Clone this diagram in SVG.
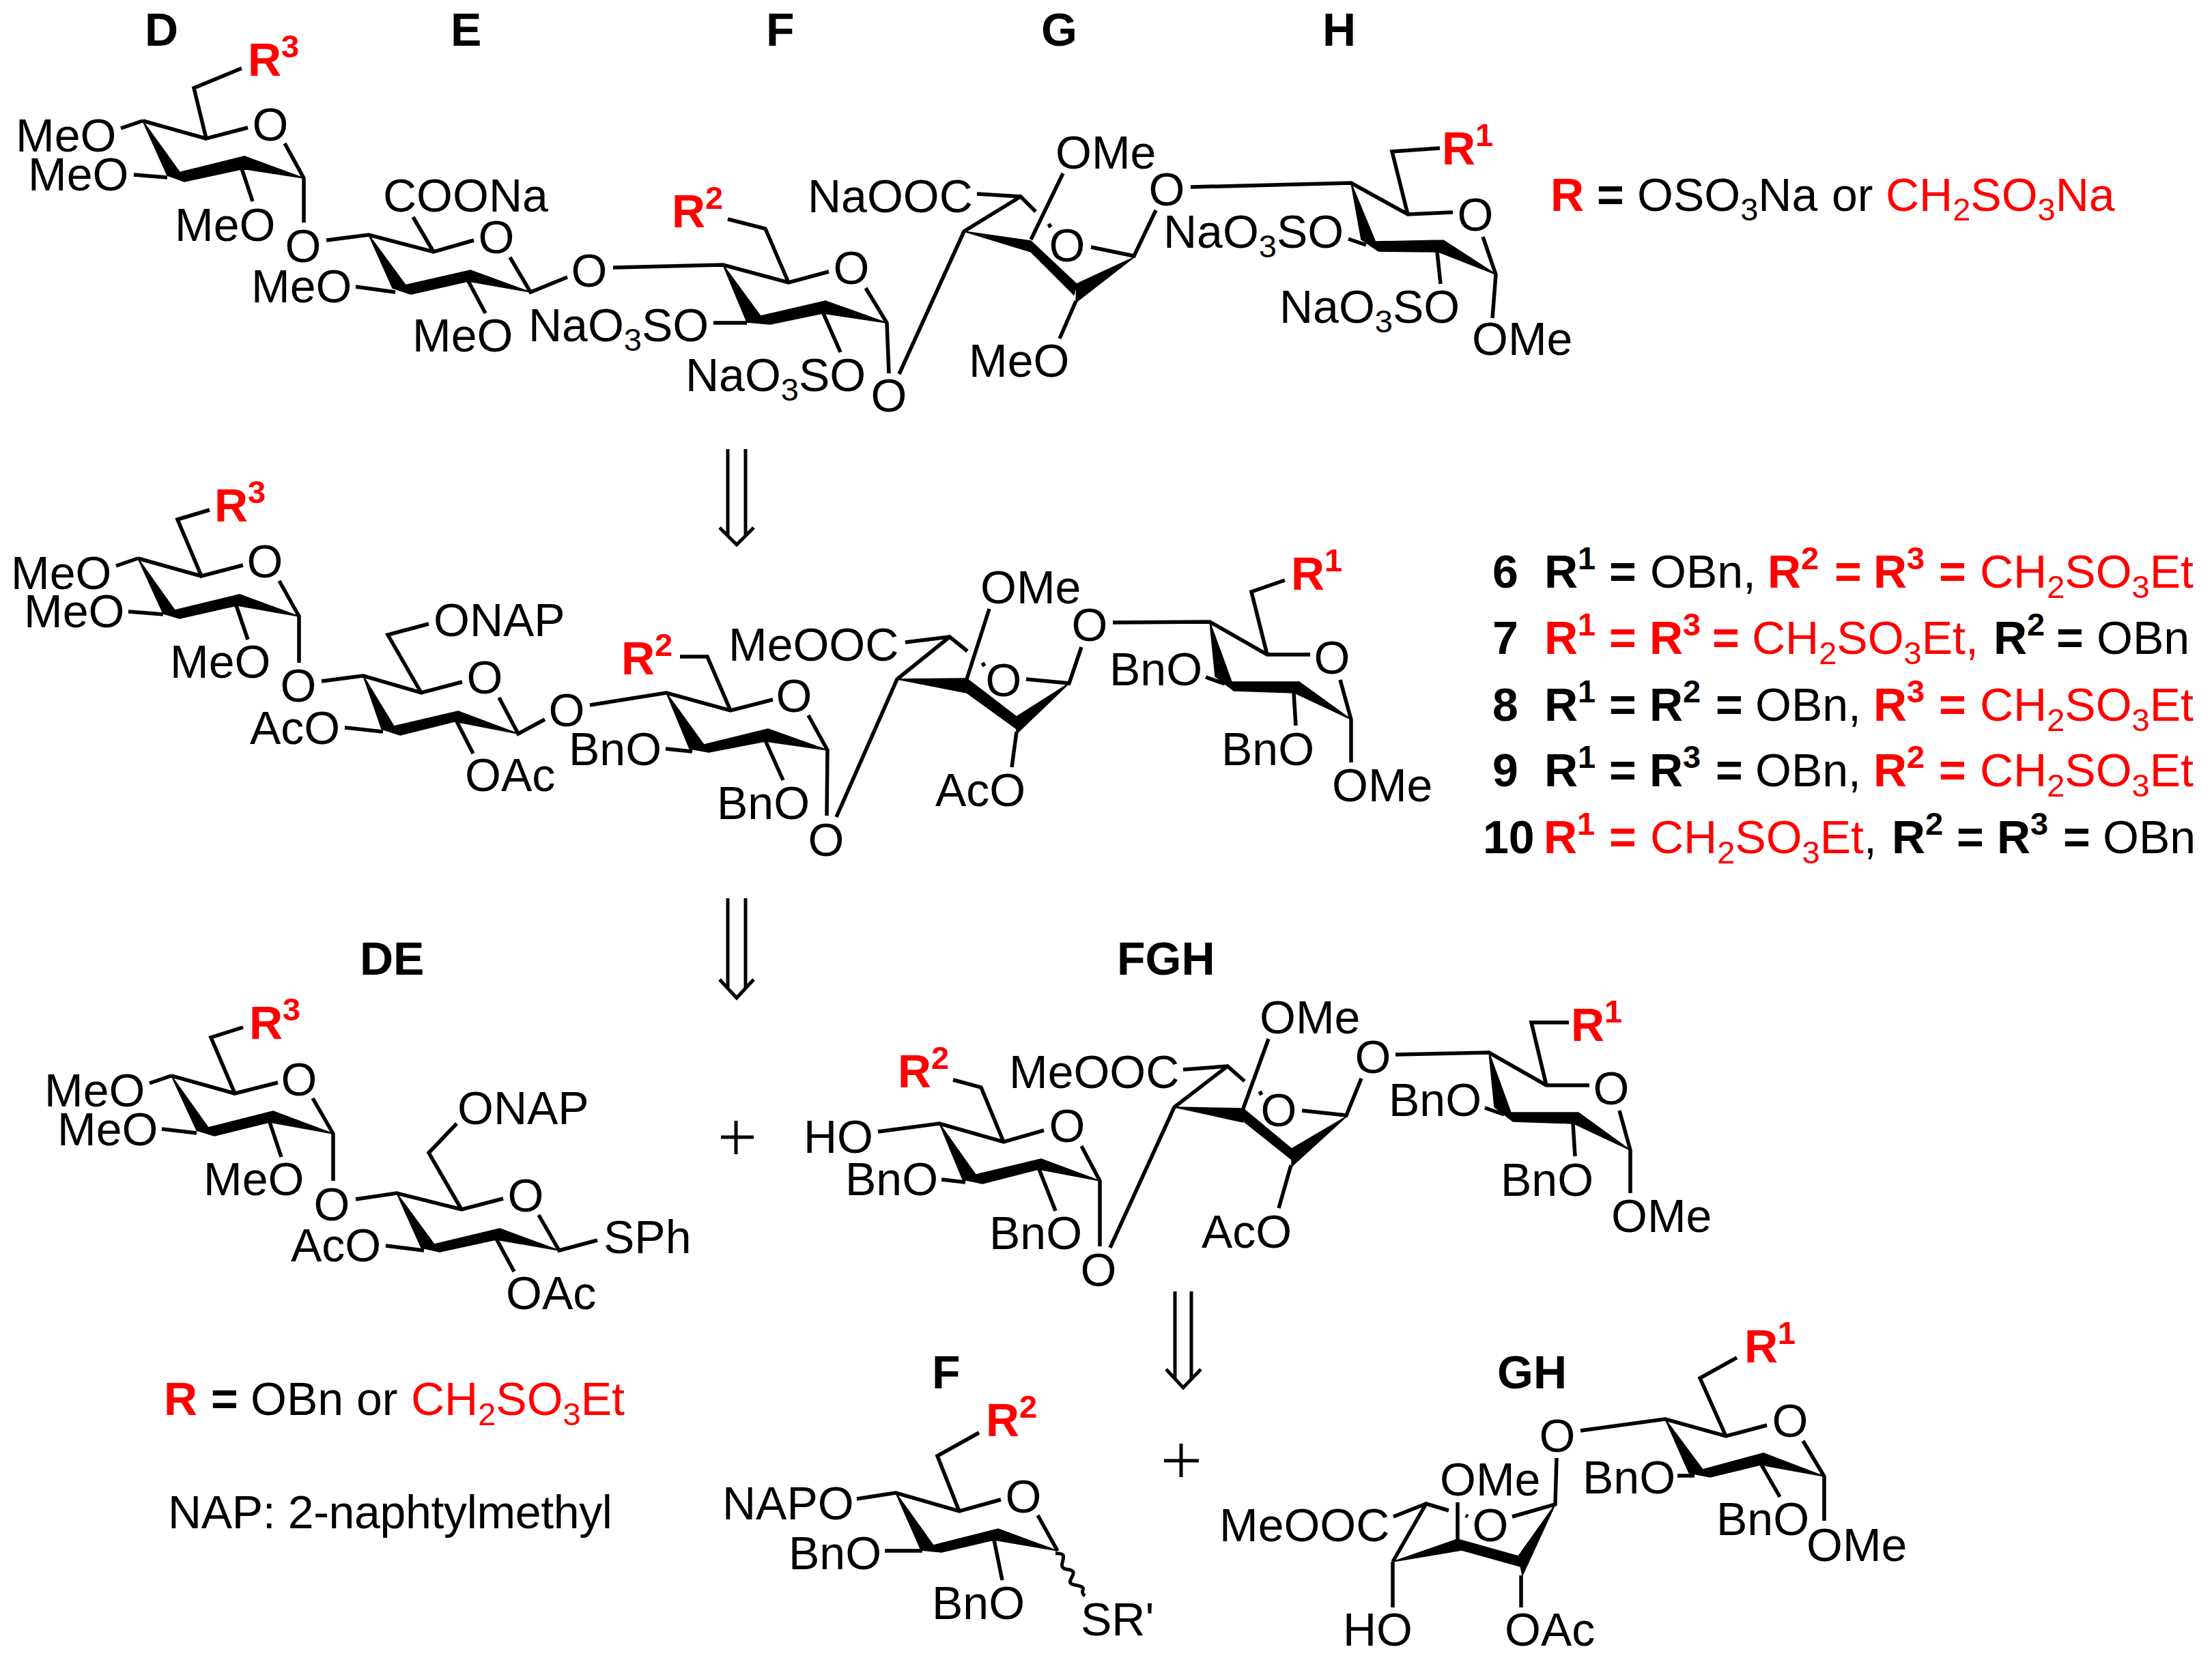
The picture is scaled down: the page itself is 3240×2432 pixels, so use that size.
<svg xmlns="http://www.w3.org/2000/svg" width="3240" height="2432" viewBox="0 0 3240 2432">
<style>
text{font-family:"Liberation Sans",Arial,sans-serif;font-size:68px;fill:#000}
.c{text-anchor:middle}
.h{font-weight:bold}
.r{fill:#f00}
.k{fill:#000}
.s{font-size:47px}
.b{fill:none;stroke:#000;stroke-width:5.5}
.t{fill:none;stroke:#000;stroke-width:5}
.w{fill:#000;stroke:#000;stroke-width:1.5;stroke-linejoin:round}
</style>
<rect width="3240" height="2432" fill="#fff"/>

<g id="ring-labels" class="h">
<text x="212" y="67">D</text><text x="660" y="67">E</text><text x="1122" y="67">F</text><text x="1525" y="67">G</text><text x="1937" y="67">H</text>
<text x="527" y="1428">DE</text><text x="1636" y="1428">FGH</text><text x="1365" y="2034">F</text><text x="2193" y="2034">GH</text>
</g>

<g id="octasaccharide-target">
<path class="b" d="M354 100L284 129L302 203L363 187M209 177L302 203M177 188L209 177M417 210L445 261L445 326M354 247L370 295M196 256L245 260
M478 352L540 344L635 369L694 352M605 318L635 369M747 377L777 428L831 406M686 412L711 459M521 420L579 428
M898 392L1059 388L1155 414L1214 398M1066 321L1121 335L1155 414M1268 422L1299 473L1302 547M1205 457L1231 516M1045 473L1094 473
M1317 548L1412 339L1495 288L1517 310M1431 284L1495 288M1557 254L1510 351M1576 441L1552 496M1598 362L1661 375L1693 308M1744 274L1979 268L2062 314L2128 311M2109 217L2039 222L2062 314M2172 347L2191 402L2186 466M1975 350L2001 359M2105 369L2110 416"/>
<path class="b" d="M1536 328L1539 333"/>
<path class="w" d="M209 177L245 257L263 252ZM245 257L358 229L358 247L270 266ZM358 229L445 261L354 247Z
M540 344L575 422L595 419ZM575 422L689 396L686 412L602 431ZM689 396L777 428L686 412Z
M1059 388L1094 472L1114 463ZM1094 472L1114 463L1209 441L1205 459L1128 475ZM1209 441L1299 473L1205 459Z
M1412 339L1510 353L1510 369ZM1510 353L1577 416L1573 432L1510 369ZM1661 377L1577 416L1576 443Z
M1979 268L1994 351L2015 355ZM1994 351L2015 354L2114 352L2107 369L2019 368ZM2114 352L2191 402L2107 369Z"/>
<text x="23" y="222">MeO</text><text x="41" y="279">MeO</text><text x="256" y="353">MeO</text>
<text class="c" x="396" y="206">O</text><text class="c" x="444" y="384">O</text><text class="c" x="727" y="371">O</text><text class="c" x="863" y="420">O</text>
<text class="h r" x="363" y="111">R<tspan class="s" dy="-27">3</tspan></text>
<text x="561" y="310">COONa</text><text x="368" y="443">MeO</text><text x="604" y="515">MeO</text>
<text x="774" y="500">NaO<tspan class="s" dy="14">3</tspan><tspan dy="-14">SO</tspan></text>
<text class="h r" x="984" y="333">R<tspan class="s" dy="-27">2</tspan></text>
<text class="c" x="1247" y="416">O</text><text class="c" x="1302" y="603">O</text>
<text x="1004" y="573">NaO<tspan class="s" dy="14">3</tspan><tspan dy="-14">SO</tspan></text>
<text x="1183" y="311">NaOOC</text><text x="1546" y="247">OMe</text><text x="1419" y="552">MeO</text>
<text class="c" x="1563" y="383">O</text><text class="c" x="1709" y="301">O</text>
<text x="1704" y="363">NaO<tspan class="s" dy="14">3</tspan><tspan dy="-14">SO</tspan></text>
<text x="1874" y="473">NaO<tspan class="s" dy="14">3</tspan><tspan dy="-14">SO</tspan></text>
<text class="c" x="2161" y="338">O</text><text x="2156" y="520">OMe</text>
<text class="h r" x="2112" y="241">R<tspan class="s" dy="-27">1</tspan></text>
</g>

<g id="legend-top">
<text class="h r" x="2271" y="309">R</text><text class="h" x="2339" y="309">=</text>
<text x="2398" y="309">OSO<tspan class="s" dy="14">3</tspan><tspan dy="-14">Na</tspan></text><text x="2683" y="309">or</text>
<text class="r" x="2762" y="309">CH<tspan class="s" dy="14">2</tspan><tspan dy="-14">SO</tspan><tspan class="s" dy="14">3</tspan><tspan dy="-14">Na</tspan></text>
</g>

<g id="protected-octasaccharide">
<path class="b" d="M307 747L260 761L295 844L356 828M202 818L295 844M170 829L202 818M409 851L438 903L438 971M346 887L363 937M188 896L239 900
M471 998L532 990L617 1015L677 999M628 914L568 930L617 1015M731 1022L759 1075L798 1054M669 1057L693 1104M505 1066L561 1072
M864 1033L976 1015L1070 1041L1132 1025M996 962L1036 962L1070 1041M1184 1048L1212 1099L1211 1195M1121 1085L1147 1143M975 1097L1014 1101
M1225 1197L1314 995L1391 933L1417 954M1326 941L1391 933M1449 892L1416 995M1489 1072L1482 1124M1503 995L1566 1001L1584 948
M1630 912L1772 911L1856 959L1919 959M1882 850L1833 867L1856 959M1963 996L1979 1054L1979 1117M1766 992L1794 1002M1895 1015L1898 1063"/>
<path class="b" d="M1439 971L1442 976"/>
<path class="w" d="M202 818L239 899L256 894ZM239 899L256 894L351 871L347 887L263 906ZM351 871L438 903L347 887Z
M532 990L559 1068L577 1064ZM559 1068L577 1064L671 1042L666 1057L586 1077ZM671 1042L759 1075L666 1057Z
M976 1015L1010 1097L1031 1091ZM1010 1097L1031 1091L1125 1068L1121 1086L1038 1102ZM1125 1068L1212 1099L1121 1086Z
M1314 995L1416 994L1416 1015ZM1416 994L1489 1050L1489 1068L1416 1015ZM1566 1001L1489 1050L1489 1075Z
M1772 911L1780 991L1804 999ZM1780 991L1804 999L1903 999L1896 1015L1807 1012ZM1903 999L1979 1054L1896 1015Z"/>
<text x="16" y="863">MeO</text><text x="35" y="919">MeO</text><text x="249" y="993">MeO</text>
<text class="c" x="388" y="846">O</text><text class="c" x="437" y="1028">O</text><text class="c" x="710" y="1016">O</text><text class="c" x="830" y="1064">O</text>
<text class="h r" x="314" y="764">R<tspan class="s" dy="-27">3</tspan></text>
<text x="635" y="932">ONAP</text><text x="366" y="1090">AcO</text><text x="681" y="1159">OAc</text>
<text class="h r" x="910" y="988">R<tspan class="s" dy="-27">2</tspan></text>
<text x="833" y="1121">BnO</text><text x="1050" y="1200">BnO</text>
<text class="c" x="1163" y="1043">O</text><text class="c" x="1210" y="1254">O</text>
<text x="1067" y="968">MeOOC</text><text x="1436" y="884">OMe</text><text x="1370" y="1181">AcO</text>
<text class="c" x="1470" y="1020">O</text><text class="c" x="1596" y="939">O</text>
<text x="1625" y="1004">BnO</text><text x="1789" y="1121">BnO</text>
<text class="c" x="1951" y="987">O</text><text x="1951" y="1174">OMe</text>
<text class="h r" x="1891" y="864">R<tspan class="s" dy="-27">1</tspan></text>
</g>

<g id="compound-list">
<text><tspan class="h" x="2186" y="861">6</tspan><tspan class="h" x="2262" y="861">R</tspan><tspan class="h s" dy="-27">1</tspan><tspan class="h" x="2357" y="861">=</tspan><tspan x="2417" y="861">OBn,</tspan><tspan class="h r" x="2589" y="861">R</tspan><tspan class="h r s" dy="-27">2</tspan><tspan class="h r" x="2687" y="861">=</tspan><tspan class="h r" x="2744" y="861">R</tspan><tspan class="h r s" dy="-27">3</tspan><tspan class="h r" x="2840" y="861">=</tspan><tspan class="r" x="2900" y="861">CH</tspan><tspan class="r s" dy="15">2</tspan><tspan class="r" dy="-15">SO</tspan><tspan class="r s" dy="15">3</tspan><tspan class="r" dy="-15">Et</tspan></text>
<text><tspan class="h" x="2186" y="958">7</tspan><tspan class="h r" x="2262" y="958">R</tspan><tspan class="h r s" dy="-27">1</tspan><tspan class="h r" x="2357" y="958">=</tspan><tspan class="h r" x="2416" y="958">R</tspan><tspan class="h r s" dy="-27">3</tspan><tspan class="h r" x="2508" y="958">=</tspan><tspan class="r" x="2566" y="958">CH</tspan><tspan class="r s" dy="15">2</tspan><tspan class="r" dy="-15">SO</tspan><tspan class="r s" dy="15">3</tspan><tspan class="r" dy="-15">Et,</tspan><tspan class="h" x="2920" y="958">R</tspan><tspan class="h s" dy="-27">2</tspan><tspan class="h" x="3012" y="958">=</tspan><tspan x="3071" y="958">OBn</tspan></text>
<text><tspan class="h" x="2186" y="1056">8</tspan><tspan class="h" x="2262" y="1056">R</tspan><tspan class="h s" dy="-27">1</tspan><tspan class="h" x="2357" y="1056">=</tspan><tspan class="h" x="2416" y="1056">R</tspan><tspan class="h s" dy="-27">2</tspan><tspan class="h" x="2513" y="1056">=</tspan><tspan x="2571" y="1056">OBn,</tspan><tspan class="h r" x="2744" y="1056">R</tspan><tspan class="h r s" dy="-27">3</tspan><tspan class="h r" x="2840" y="1056">=</tspan><tspan class="r" x="2900" y="1056">CH</tspan><tspan class="r s" dy="15">2</tspan><tspan class="r" dy="-15">SO</tspan><tspan class="r s" dy="15">3</tspan><tspan class="r" dy="-15">Et</tspan></text>
<text><tspan class="h" x="2186" y="1152">9</tspan><tspan class="h" x="2262" y="1152">R</tspan><tspan class="h s" dy="-27">1</tspan><tspan class="h" x="2357" y="1152">=</tspan><tspan class="h" x="2416" y="1152">R</tspan><tspan class="h s" dy="-27">3</tspan><tspan class="h" x="2513" y="1152">=</tspan><tspan x="2571" y="1152">OBn,</tspan><tspan class="h r" x="2744" y="1152">R</tspan><tspan class="h r s" dy="-27">2</tspan><tspan class="h r" x="2840" y="1152">=</tspan><tspan class="r" x="2900" y="1152">CH</tspan><tspan class="r s" dy="15">2</tspan><tspan class="r" dy="-15">SO</tspan><tspan class="r s" dy="15">3</tspan><tspan class="r" dy="-15">Et</tspan></text>
<text><tspan class="h" x="2172" y="1250">10</tspan><tspan class="h r" x="2261" y="1250">R</tspan><tspan class="h r s" dy="-27">1</tspan><tspan class="h r" x="2357" y="1250">=</tspan><tspan class="r" x="2417" y="1250">CH</tspan><tspan class="r s" dy="15">2</tspan><tspan class="r" dy="-15">SO</tspan><tspan class="r s" dy="15">3</tspan><tspan class="r" dy="-15">Et</tspan><tspan dy="0">,</tspan><tspan class="h" x="2771" y="1250">R</tspan><tspan class="h s" dy="-27">2</tspan><tspan class="h" x="2866" y="1250">=</tspan><tspan class="h" x="2925" y="1250">R</tspan><tspan class="h s" dy="-27">3</tspan><tspan class="h" x="3022" y="1250">=</tspan><tspan x="3080" y="1250">OBn</tspan></text>
</g>

<g id="connectors">
<path class="t" d="M1066 658V786M1092 658V786M1054 773L1079 798L1104 773"/>
<path class="t" d="M1066 1316V1449M1092 1316V1449M1054 1435L1079 1462L1104 1435"/>
<path class="t" d="M1721 1892V2020M1745 1892V2020M1708 2006L1733 2033L1759 2006"/>
</g>
<g id="plus-signs">
<path class="t" d="M1056 1666H1104M1078 1642V1691"/>
<path class="t" d="M1705 2140H1756M1730 2115V2164"/>
</g>

<g id="DE-donor">
<path class="b" d="M356 1505L309 1520L344 1602L407 1586M251 1576L344 1602M219 1587L251 1576M458 1609L488 1661L488 1730M395 1644L412 1695M237 1654L288 1660
M521 1757L581 1748L676 1772L737 1756M669 1646L628 1689L676 1772M789 1780L819 1832L875 1817M727 1815L753 1863M565 1825L621 1832"/>
<path class="w" d="M251 1576L288 1656L305 1652ZM288 1656L305 1652L400 1628L395 1644L314 1664ZM400 1628L488 1661L395 1644Z
M581 1748L617 1828L636 1823ZM617 1828L636 1823L732 1800L727 1816L644 1834ZM732 1800L819 1832L727 1816Z"/>
<text x="65" y="1621">MeO</text><text x="84" y="1678">MeO</text><text x="298" y="1751">MeO</text>
<text class="c" x="438" y="1605">O</text><text class="c" x="486" y="1788">O</text><text class="c" x="770" y="1775">O</text>
<text class="h r" x="365" y="1522">R<tspan class="s" dy="-27">3</tspan></text>
<text x="670" y="1647">ONAP</text><text x="426" y="1848">AcO</text><text x="741" y="1918">OAc</text><text x="884" y="1836">SPh</text>
</g>

<g id="legend-bottom">
<text class="h r" x="240" y="2073">R</text><text class="h" x="309" y="2073">=</text><text x="367" y="2073">OBn</text><text x="522" y="2073">or</text>
<text class="r" x="602" y="2073">CH<tspan class="s" dy="15">2</tspan><tspan dy="-15">SO</tspan><tspan class="s" dy="15">3</tspan><tspan dy="-15">Et</tspan></text>
<text x="246" y="2239" style="letter-spacing:-.35px">NAP: 2-naphtylmethyl</text>
</g>

<g id="FGH-acceptor">
<path class="b" d="M1286 1658L1376 1646L1470 1673L1529 1656M1396 1582L1437 1593L1470 1673M1584 1679L1611 1730L1611 1826M1522 1713L1546 1774M1379 1728L1414 1732
M1626 1828L1720 1622L1798 1562L1823 1584M1733 1567L1798 1562M1858 1522L1821 1624M1891 1707L1873 1770M1907 1627L1972 1634L1994 1580
M2044 1545L2181 1542L2265 1590L2328 1590M2298 1498L2243 1498L2265 1590M2372 1627L2388 1685L2388 1748M2175 1623L2203 1633M2304 1646L2307 1694"/>
<path class="b" d="M1845 1599L1848 1604"/>
<path class="w" d="M1376 1646L1410 1728L1429 1721ZM1410 1728L1429 1721L1525 1698L1521 1713L1439 1734ZM1525 1698L1611 1730L1521 1713Z
M1720 1622L1821 1624L1821 1644ZM1821 1624L1892 1683L1892 1699L1823 1644ZM1972 1636L1892 1683L1892 1709Z
M2181 1542L2189 1622L2213 1630ZM2189 1622L2213 1630L2312 1630L2305 1646L2216 1643ZM2312 1630L2388 1685L2305 1646Z"/>
<text x="1177" y="1689">HO</text><text x="1238" y="1751">BnO</text><text x="1449" y="1830">BnO</text>
<text class="h r" x="1315" y="1593">R<tspan class="s" dy="-27">2</tspan></text>
<text class="c" x="1563" y="1673">O</text><text class="c" x="1609" y="1884">O</text>
<text x="1478" y="1594">MeOOC</text><text x="1845" y="1514">OMe</text><text x="1760" y="1828">AcO</text>
<text class="c" x="1873" y="1650">O</text><text class="c" x="2011" y="1572">O</text>
<text x="2034" y="1635">BnO</text><text x="2198" y="1752">BnO</text>
<text class="c" x="2360" y="1618">O</text><text x="2360" y="1805">OMe</text>
<text class="h r" x="2301" y="1525">R<tspan class="s" dy="-27">1</tspan></text>
</g>

<g id="F-donor">
<path class="b" d="M1255 2196L1312 2187L1405 2214L1466 2197M1434 2099L1373 2133L1405 2214M1520 2220L1549 2272M1456 2256L1468 2315M1296 2272L1351 2272"/>
<path d="M1546 2276C1572 2274 1544 2296 1562 2299C1588 2302 1554 2318 1574 2322C1598 2326 1578 2330 1589 2338" fill="none" stroke="#000" stroke-width="5"/>
<path class="w" d="M1312 2187L1349 2271L1367 2264ZM1349 2271L1367 2264L1462 2240L1456 2256L1379 2274ZM1462 2240L1549 2272L1456 2256Z"/>
<text x="1058" y="2226">NAPO</text><text x="1155" y="2299">BnO</text><text x="1365" y="2372">BnO</text>
<text class="c" x="1499" y="2216">O</text>
<text class="h r" x="1444" y="2104">R<tspan class="s" dy="-27">2</tspan></text>
<text x="1583" y="2396">SR'</text>
</g>

<g id="GH-acceptor">
<path class="b" d="M2280 2136L2278 2204L2215 2222M2315 2096L2439 2079L2528 2104L2588 2088M2544 1989L2490 2019L2528 2104M2641 2111L2672 2163L2672 2228M2457 2162L2482 2162M2580 2146L2607 2193
M2135 2201L2135 2255M2040 2288L2089 2203L2122 2213M2041 2222L2089 2203M2228 2308L2228 2355M2040 2288L2040 2355"/>
<path class="b" d="M2147 2220L2150 2222"/>
<path class="w" d="M2439 2079L2474 2158L2494 2153ZM2474 2158L2494 2153L2583 2129L2579 2146L2505 2164ZM2583 2129L2672 2163L2579 2146Z
M2040 2288L2135 2255L2141 2271ZM2135 2255L2224 2280L2227 2295L2141 2271ZM2278 2204L2224 2280L2230 2308Z"/>
<text class="c" x="2281" y="2127">O</text><text class="c" x="2622" y="2105">O</text><text class="c" x="2183" y="2258">O</text>
<text class="h r" x="2555" y="1996">R<tspan class="s" dy="-27">1</tspan></text>
<text x="2318" y="2188">BnO</text><text x="2514" y="2249">BnO</text><text x="2646" y="2287">OMe</text>
<text x="2109" y="2191">OMe</text><text x="1786" y="2258">MeOOC</text><text x="1967" y="2411">HO</text><text x="2204" y="2411">OAc</text>
</g>
</svg>
